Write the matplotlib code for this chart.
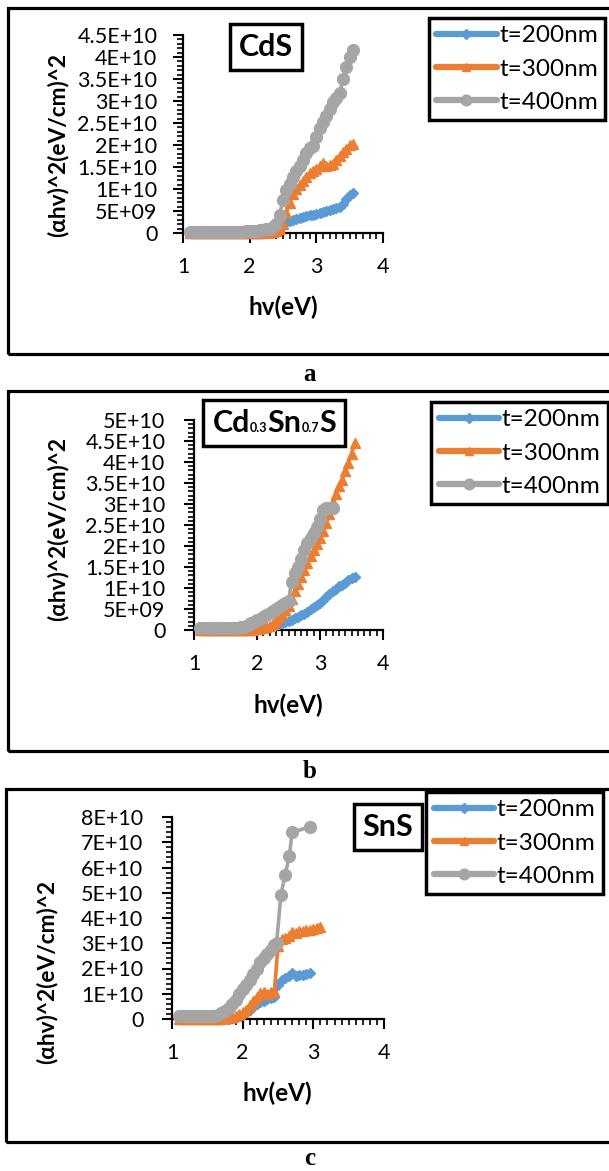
import numpy as np
import matplotlib
matplotlib.use('Agg')
import matplotlib.pyplot as plt
from matplotlib.lines import Line2D
from matplotlib.patches import Rectangle
from matplotlib.ticker import MultipleLocator
from matplotlib.offsetbox import TextArea, HPacker, AnchoredOffsetbox

plt.rcParams['font.family'] = ['Lato', 'DejaVu Sans']

# photon energy grid (eV), shared by the series (each uses the first len(y) points)
hv = [1.10, 1.15, 1.20, 1.25, 1.30, 1.35, 1.40, 1.45, 1.50, 1.55,
      1.60, 1.65, 1.70, 1.75, 1.80, 1.85, 1.90, 1.95, 2.00, 2.05,
      2.10, 2.15, 2.20, 2.25, 2.30, 2.35, 2.40, 2.45, 2.50, 2.55,
      2.60, 2.65, 2.70, 2.75, 2.80, 2.85, 2.90, 2.95, 3.00, 3.05,
      3.10, 3.15, 3.20, 3.25, 3.30, 3.35, 3.40, 3.45, 3.50, 3.55]

# (alpha h v)^2 values in units of 1E+10 (eV/cm)^2
# a: CdS
cds_200 = [0.002]*25 + [0.005, 0.02, 0.08, 0.18, 0.25, 0.28, 0.30, 0.32, 0.34, 0.36,
                        0.38, 0.40, 0.42, 0.44, 0.46, 0.48, 0.50, 0.53, 0.55, 0.57,
                        0.60, 0.66, 0.78, 0.86, 0.92]
cds_300 = [0.003]*22 + [0.008, 0.012, 0.016] + [0.02, 0.04, 0.09, 0.2, 0.45, 0.68, 0.88, 1.0,
                                              1.1, 1.18, 1.28, 1.36, 1.42, 1.46, 1.52, 1.6,
                                              1.52, 1.55, 1.56, 1.66, 1.76, 1.84, 1.92, 1.99, 2.03]
cds_400 = [0.03]*17 + [0.035, 0.04, 0.045, 0.05, 0.06, 0.07, 0.08, 0.1] + \
          [0.13, 0.2, 0.42, 0.75, 0.98, 1.12, 1.28, 1.42, 1.52, 1.66, 1.82, 1.93, 1.98,
           2.18, 2.38, 2.52, 2.66, 2.82, 2.98, 3.06, 3.18, 3.5, 3.78, 4.0, 4.16]

# b: Cd0.3Sn0.7S
cdsns_200 = [0.002]*18 + [0.01, 0.02, 0.03, 0.05, 0.07, 0.1, 0.12, 0.15, 0.17, 0.2, 0.22,
                          0.25, 0.28, 0.31, 0.35, 0.39, 0.44, 0.49, 0.55, 0.6, 0.65, 0.71,
                          0.78, 0.85, 0.92, 0.98, 1.04, 1.06, 1.13, 1.19, 1.23, 1.26]
cdsns_300 = [0.002]*15 + [0.005, 0.01, 0.02, 0.03, 0.04, 0.05, 0.07, 0.1, 0.15, 0.22, 0.3,
                          0.38, 0.48, 0.58, 0.75, 0.92, 1.1, 1.27, 1.42, 1.6, 1.76, 1.9,
                          2.05, 2.2, 2.36, 2.55, 2.77, 3.05, 3.25, 3.42, 3.57, 3.78, 3.98,
                          4.2, 4.45]
cdsns_400 = [0.05]*13 + [0.06, 0.08, 0.12, 0.17, 0.2, 0.24, 0.27, 0.31, 0.35, 0.4, 0.45,
                         0.5, 0.55, 0.6, 0.65, 0.7, 1.15, 1.35, 1.5, 1.7, 1.9, 2.07, 2.2,
                         2.3, 2.45, 2.65, 2.86, 2.9, 2.9, 2.9]

# c: SnS
sns_200 = [0.002]*15 + [0.02, 0.05, 0.1, 0.16, 0.26, 0.36, 0.46, 0.58, 0.67, 0.73, 0.78,
                        0.82, 0.86, 1.35, 1.55, 1.62, 1.7, 1.82, 1.72, 1.73, 1.75, 1.78, 1.82]
sns_300 = [0.002]*13 + [0.02, 0.05, 0.08, 0.12, 0.18, 0.26, 0.36, 0.55, 0.72, 0.88, 1.02,
                        1.08, 1.0, 1.08, 1.12, 2.9, 3.15, 3.22, 3.3, 3.45, 3.4, 3.48, 3.5,
                        3.52, 3.52, 3.56, 3.6, 3.64]
sns_400_hv = hv[:28] + [2.48, 2.54, 2.60, 2.66, 2.70, 2.95]
sns_400 = [0.1]*10 + [0.12, 0.16, 0.22, 0.3, 0.42, 0.58, 0.75, 0.98, 1.18, 1.36, 1.54,
                      1.78, 2.0, 2.25, 2.42, 2.58, 2.75, 2.92] + [3.0, 4.9, 5.7, 6.45, 7.4, 7.6]

labels = ['t=200nm', 't=300nm', 't=400nm']
colors = ['#5B9BD5', '#ED7D31', '#A5A5A5']
markers = ['D', '^', 'o']
msizes = [5.5, 7, 8.5]

yticks_a = [0, 0.5e10, 1e10, 1.5e10, 2e10, 2.5e10, 3e10, 3.5e10, 4e10, 4.5e10]
ylabels_a = ['0', '5E+09', '1E+10', '1.5E+10', '2E+10', '2.5E+10', '3E+10', '3.5E+10', '4E+10', '4.5E+10']
yticks_b = yticks_a + [5e10]
ylabels_b = ylabels_a + ['5E+10']
yticks_c = [0, 1e10, 2e10, 3e10, 4e10, 5e10, 6e10, 7e10, 8e10]
ylabels_c = ['0', '1E+10', '2E+10', '3E+10', '4E+10', '5E+10', '6E+10', '7E+10', '8E+10']

# title pieces: (text, is_subscript)
title_a = [('CdS', False)]
title_b = [('Cd', False), ('0.3', True), ('Sn', False), ('0.7', True), ('S', False)]
title_c = [('SnS', False)]

W, H = 609, 1171
fig = plt.figure(figsize=(W / 100, H / 100), dpi=100)


def fbox(x0, y0, x1, y1):
    return [x0 / W, 1 - y1 / H, (x1 - x0) / W, (y1 - y0) / H]


def fpt(x, y):
    return x / W, 1 - y / H


panels = [
    dict(ax=(183, 35, 383, 233), ymax=4.5e10, yt=yticks_a, yl=ylabels_a, minor=1e9,
         series=[(hv, cds_200), (hv, cds_300), (hv, cds_400)],
         title=title_a, tpos=(266, 47), leg=(432, 18, 602, 120), frame=(8, 8, 620, 354),
         cap='a', cpos=(310, 381), ylab=(58, 145), xlab=(283, 307), ypad=16),
    dict(ax=(194, 420, 383, 630), ymax=5e10, yt=yticks_b, yl=ylabels_b, minor=1e9,
         series=[(hv, cdsns_200), (hv, cdsns_300), (hv, cdsns_400)],
         title=title_b, tpos=(274, 423), leg=(432, 398, 607, 508),
         frame=(8, 391, 620, 751), cap='b', cpos=(310, 778), ylab=(58, 529), xlab=(288, 705),
         ypad=19),
    dict(ax=(172, 817, 384, 1019), ymax=8e10, yt=yticks_c, yl=ylabels_c, minor=2e9,
         series=[(hv, sns_200), (hv, sns_300), (sns_400_hv, sns_400)],
         title=title_c, tpos=(388, 827), leg=(422, 793, 607, 893), frame=(6, 789, 620, 1142),
         cap='c', cpos=(310, 1165), ylab=(47, 972), xlab=(277, 1093), ypad=19),
]

for p in panels:
    x0, y0, x1, y1 = p['frame']
    fig.patches.append(Rectangle((x0 / W, 1 - y1 / H), (x1 - x0) / W, (y1 - y0) / H,
                                 transform=fig.transFigure, fill=False, ec='black', lw=2.3))

    ax = fig.add_axes(fbox(*p['ax']))
    ax.patch.set_alpha(0)
    for (xs, ys), c, m, ms in zip(p['series'], colors, markers, msizes):
        ax.plot(xs[:len(ys)], np.array(ys) * 1e10, color=c, lw=2.6, marker=m, ms=ms,
                mec=c, mfc=c, clip_on=False, zorder=3, solid_joinstyle='round')
    ax.set_xlim(1, 4)
    ax.set_ylim(0, p['ymax'])
    ax.set_xticks([1, 2, 3, 4])
    ax.xaxis.set_minor_locator(MultipleLocator(0.1))
    ax.set_yticks(p['yt'])
    ax.set_yticklabels(p['yl'])
    ax.yaxis.set_minor_locator(MultipleLocator(p['minor']))
    for s in ['top', 'right']:
        ax.spines[s].set_visible(False)
    for s in ['left', 'bottom']:
        ax.spines[s].set_linewidth(1.6)
    ax.tick_params(which='major', length=7, width=1.5, labelsize=15.5)
    ax.tick_params(which='minor', length=4, width=1.2)
    ax.tick_params(axis='y', which='major', pad=p['ypad'] * 0.72)
    ax.tick_params(axis='x', which='major', pad=10.5)

    fig.text(*fpt(*p['ylab']), '(αhv)^2(eV/cm)^2', rotation=90, ha='center', va='center',
             fontsize=16.3, fontweight='bold')
    fig.text(*fpt(*p['xlab']), 'hv(eV)', ha='center', va='center', fontsize=17.5,
             fontweight='bold')

    parts = [TextArea(t, textprops=dict(fontsize=9 if sub else 22, fontweight='bold'))
             for t, sub in p['title']]
    pack = HPacker(children=parts, align='baseline', pad=0, sep=0)
    tb = AnchoredOffsetbox(loc='center', child=pack, pad=0.65, borderpad=0, frameon=True,
                           bbox_to_anchor=fpt(*p['tpos']), bbox_transform=fig.transFigure)
    tb.patch.set_edgecolor('black')
    tb.patch.set_linewidth(2.5)
    tb.patch.set_boxstyle('square,pad=0')
    tb.set_zorder(3)
    fig.add_artist(tb)

    fig.text(*fpt(*p['cpos']), p['cap'], ha='center', va='baseline', fontsize=18,
             fontweight='bold', family='Liberation Serif')

    handles = [Line2D([], [], color=c, lw=4.5, marker=m, ms=ms * 0.9, mec=c,
                      solid_capstyle='round') for c, m, ms in zip(colors, markers, msizes)]
    lx0, ly0, lx1, ly1 = p['leg']
    leg = fig.legend(handles, labels, loc='center', bbox_to_anchor=fbox(lx0, ly0, lx1, ly1),
                     fontsize=17.5, frameon=True, fancybox=False, framealpha=1,
                     edgecolor='black', borderpad=0.3, labelspacing=0.5, handlelength=2.5,
                     handletextpad=0.1, borderaxespad=0, numpoints=1)
    leg.get_frame().set_linewidth(2.5)
    leg.set_zorder(5)

fig.savefig('out.png', dpi=100)
